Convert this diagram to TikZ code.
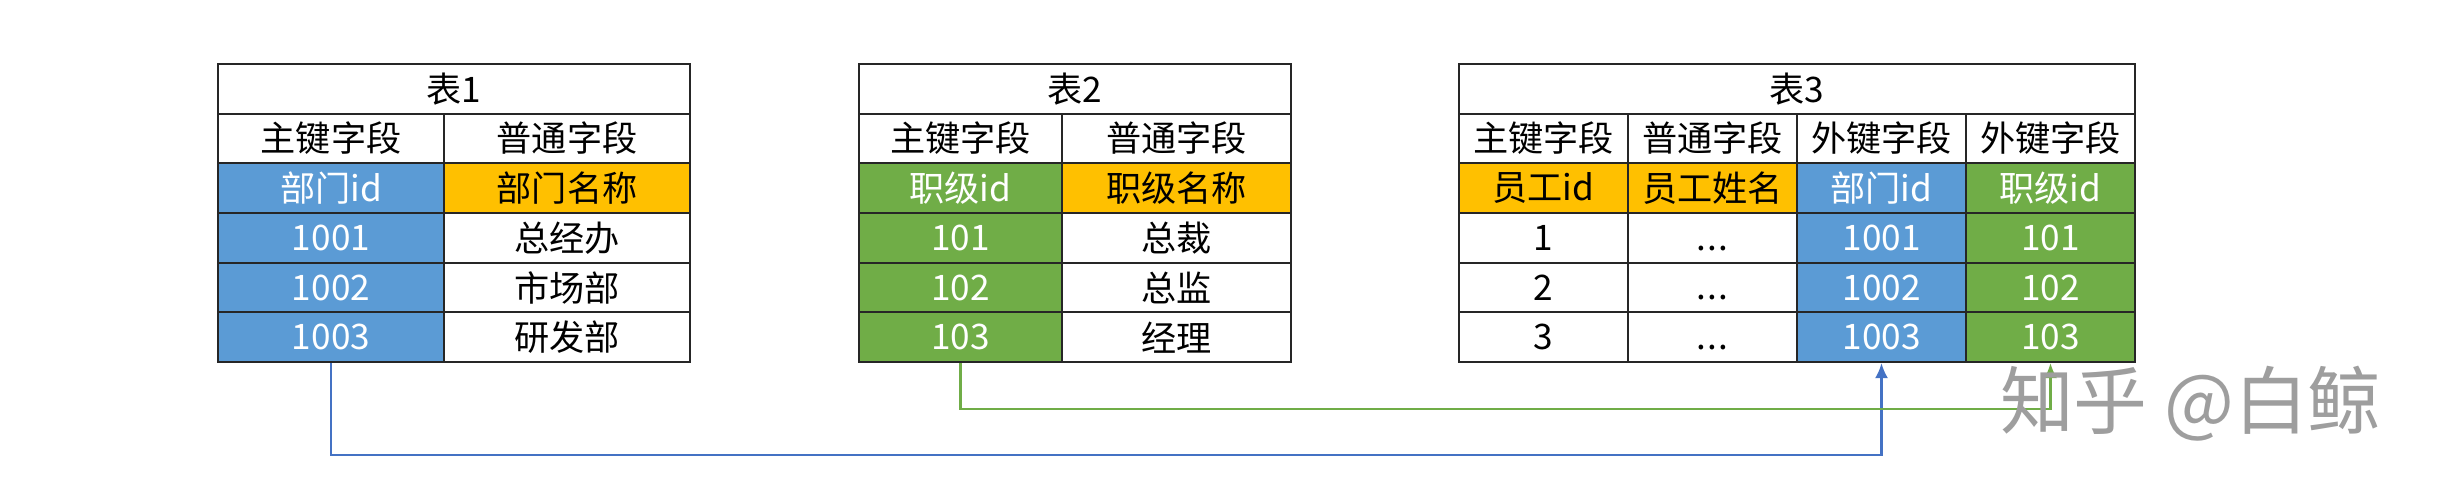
\documentclass[tikz,border=0pt]{standalone}
\usepackage{fontspec}
\setmainfont{Noto Sans CJK SC}
\usetikzlibrary{arrows.meta}

\definecolor{keyblue}{RGB}{91,155,213}
\definecolor{keygreen}{RGB}{112,173,71}
\definecolor{keyorange}{RGB}{255,192,0}
\definecolor{lineblue}{RGB}{68,114,196}
\definecolor{linegreen}{RGB}{112,173,71}

\tikzset{
    cell/.style={draw=black!85, line width=0.6pt, inner sep=0pt,
        minimum height=0.497cm, font=\fontsize{10}{12}\selectfont},
    bluecell/.style={cell, fill=keyblue, text=white},
    greencell/.style={cell, fill=keygreen, text=white},
    orangecell/.style={cell, fill=keyorange},
    link/.style={line width=0.6pt, -{Latex[length=0.15cm,width=0.13cm]}},
    watermark/.style={text=black!38, font=\fontsize{21}{24}\selectfont}
}
\newcommand{\dotsthree}{\vphantom{1}{.}\kern0.3pt{.}\kern0.3pt{.}}

\begin{document}
\begin{tikzpicture}[x=0.01cm, y=-0.01cm]
    \useasboundingbox (0,0) rectangle (2445,500);

    % Table 1
    \node[cell, minimum width=4.72cm] (t1head) at (454,88.8) {表1};
    \node[cell, minimum width=2.26cm] (t1a1) at (331,138.5) {主键字段};
    \node[cell, minimum width=2.46cm] (t1b1) at (567,138.5) {普通字段};
    \node[bluecell, minimum width=2.26cm] (t1a2) at (331,188.2) {部门id};
    \node[orangecell, minimum width=2.46cm] (t1b2) at (567,188.2) {部门名称};
    \node[bluecell, minimum width=2.26cm] (t1a3) at (331,237.8) {1001};
    \node[cell, minimum width=2.46cm] (t1b3) at (567,237.8) {总经办};
    \node[bluecell, minimum width=2.26cm] (t1a4) at (331,287.5) {1002};
    \node[cell, minimum width=2.46cm] (t1b4) at (567,287.5) {市场部};
    \node[bluecell, minimum width=2.26cm] (t1a5) at (331,337.2) {1003};
    \node[cell, minimum width=2.46cm] (t1b5) at (567,337.2) {研发部};

    % Table 2
    \node[cell, minimum width=4.32cm] (t2head) at (1075,88.8) {表2};
    \node[cell, minimum width=2.03cm] (t2a1) at (960.5,138.5) {主键字段};
    \node[cell, minimum width=2.29cm] (t2b1) at (1176.5,138.5) {普通字段};
    \node[greencell, minimum width=2.03cm] (t2a2) at (960.5,188.2) {职级id};
    \node[orangecell, minimum width=2.29cm] (t2b2) at (1176.5,188.2) {职级名称};
    \node[greencell, minimum width=2.03cm] (t2a3) at (960.5,237.8) {101};
    \node[cell, minimum width=2.29cm] (t2b3) at (1176.5,237.8) {总裁};
    \node[greencell, minimum width=2.03cm] (t2a4) at (960.5,287.5) {102};
    \node[cell, minimum width=2.29cm] (t2b4) at (1176.5,287.5) {总监};
    \node[greencell, minimum width=2.03cm] (t2a5) at (960.5,337.2) {103};
    \node[cell, minimum width=2.29cm] (t2b5) at (1176.5,337.2) {经理};

    % Table 3
    \node[cell, minimum width=6.76cm] (t3head) at (1797,88.8) {表3};
    \node[cell, minimum width=1.69cm] (t3a1) at (1543.5,138.5) {主键字段};
    \node[cell, minimum width=1.69cm] (t3b1) at (1712.5,138.5) {普通字段};
    \node[cell, minimum width=1.69cm] (t3c1) at (1881.5,138.5) {外键字段};
    \node[cell, minimum width=1.69cm] (t3d1) at (2050.5,138.5) {外键字段};
    %
    \node[orangecell, minimum width=1.69cm] (t3a2) at (1543.5,188.2) {员工id};
    \node[orangecell, minimum width=1.69cm] (t3b2) at (1712.5,188.2) {员工姓名};
    \node[bluecell, minimum width=1.69cm] (t3c2) at (1881.5,188.2) {部门id};
    \node[greencell, minimum width=1.69cm] (t3d2) at (2050.5,188.2) {职级id};
    %
    \node[cell, minimum width=1.69cm] (t3a3) at (1543.5,237.8) {1};
    \node[cell, minimum width=1.69cm] (t3b3) at (1712.5,237.8) {\dotsthree};
    \node[bluecell, minimum width=1.69cm] (t3c3) at (1881.5,237.8) {1001};
    \node[greencell, minimum width=1.69cm] (t3d3) at (2050.5,237.8) {101};
    %
    \node[cell, minimum width=1.69cm] (t3a4) at (1543.5,287.5) {2};
    \node[cell, minimum width=1.69cm] (t3b4) at (1712.5,287.5) {\dotsthree};
    \node[bluecell, minimum width=1.69cm] (t3c4) at (1881.5,287.5) {1002};
    \node[greencell, minimum width=1.69cm] (t3d4) at (2050.5,287.5) {102};
    %
    \node[cell, minimum width=1.69cm] (t3a5) at (1543.5,337.2) {3};
    \node[cell, minimum width=1.69cm] (t3b5) at (1712.5,337.2) {\dotsthree};
    \node[bluecell, minimum width=1.69cm] (t3c5) at (1881.5,337.2) {1003};
    \node[greencell, minimum width=1.69cm] (t3d5) at (2050.5,337.2) {103};

    % Links
    \draw[link, lineblue]
        (t1a5.south) -- ++(0,92) -| (t3c5.south);
    \draw[link, linegreen]
        (t2a5.south) -- ++(0,46) -| (t3d5.south);

    % Watermark
    \node[watermark] (mark) at (2191,404) {知乎 @白鲸};

\end{tikzpicture}
\end{document}
